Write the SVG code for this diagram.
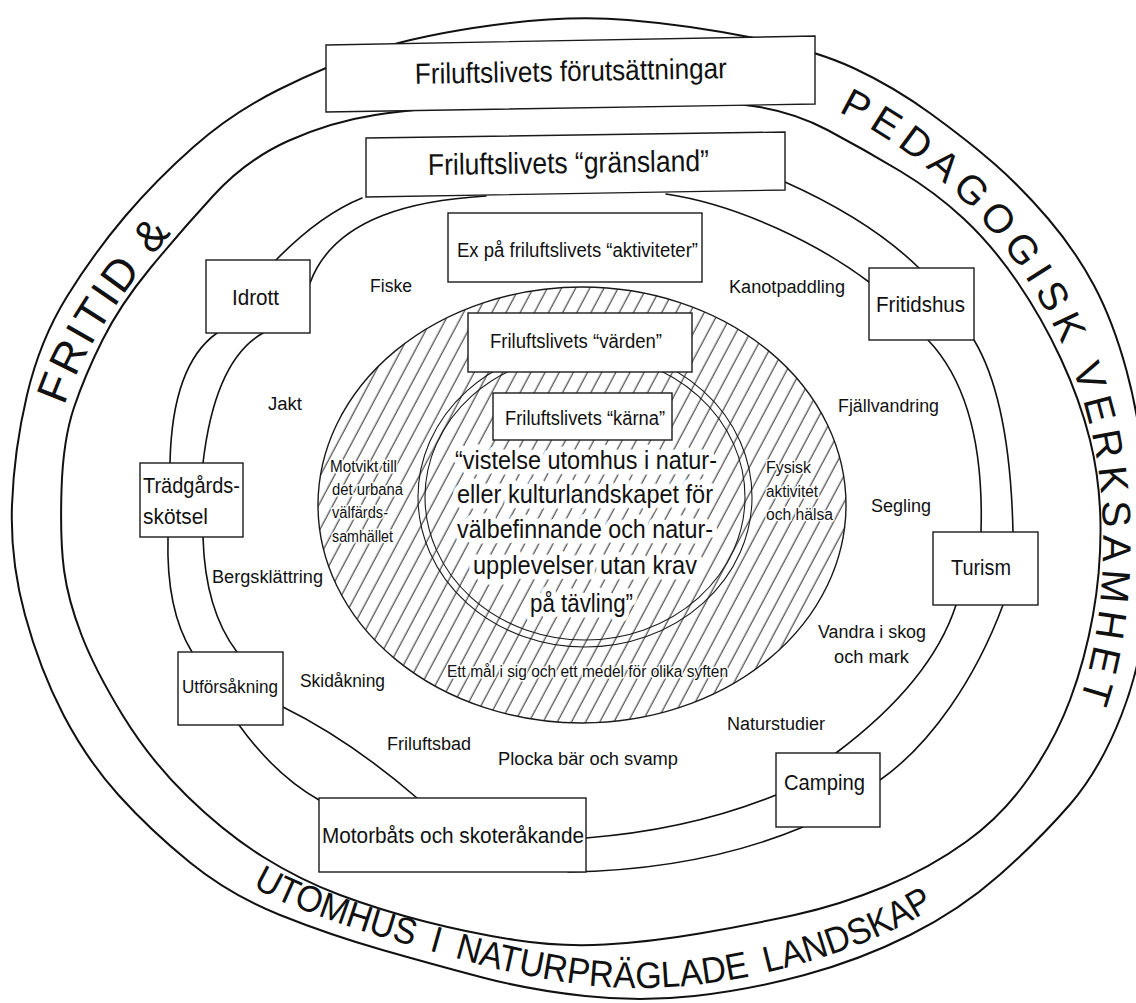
<svg xmlns="http://www.w3.org/2000/svg" width="1136" height="1003" viewBox="0 0 1136 1003">
<style>
  .ring{fill:none;stroke:#111;stroke-width:2;stroke-linejoin:round}
  .con{fill:none;stroke:#111;stroke-width:1.6;stroke-linecap:round}
  .box{fill:#fff;stroke:#1a1a1a;stroke-width:1.4}
  text{font-family:"Liberation Sans Narrow","Liberation Sans",Arial,sans-serif;fill:#111}
  .band{font-family:"Liberation Sans",Arial,sans-serif}
  .lbl{font-size:18px}
  .bt{font-size:22px}
  .sm{font-size:16px}
  .halo{paint-order:stroke;stroke:#fff;stroke-width:3px;stroke-linejoin:round}
  .halo2{paint-order:stroke;stroke:#fff;stroke-width:11px;stroke-linejoin:round}
  .ov{fill:none;stroke:#1a1a1a;stroke-width:1.1}
</style>
<defs>
  <pattern id="hatch" width="12.5" height="40" patternUnits="userSpaceOnUse" patternTransform="rotate(28)">
    <line x1="6" y1="-1" x2="6" y2="41" stroke="#222" stroke-width="1"/>
  </pattern>
  <path id="pL" d="M50,470 C60,380 110,290 250,148"/>
  <path id="pR" d="M790,92 C960,150 1100,320 1103,530 C1104,650 1078,745 1008,830"/>
  <path id="pB" d="M200,850 Q238,882 285,903 Q335,923 385,938 Q437,953 485,966 Q532,978 585,985 Q640,991 694,985 Q748,979 800,964 Q855,949 903,925 Q952,900 990,866"/>
</defs>
<rect width="1136" height="1003" fill="#fff"/>

<g id="rings">
  <path class="ring" d="M25,615 Q10,560 12,505 Q14,450 27,395 Q40,340 67,296.5 Q94,253 125,216.5 Q156,180 194,146.5 Q232,113 279,89.5 Q326,66 373,50.5 Q420,35 494,25 Q568,15 628,20 Q688,25 751.5,37.5 Q815,50 854.5,68.5 Q894,87 930.5,113.5 Q967,140 994,163.5 Q1021,187 1048,218.5 Q1075,250 1094,285.5 Q1113,321 1126.5,370.5 Q1140,420 1145,480 Q1150,540 1146.5,600 Q1143,660 1121.5,715 Q1100,770 1069.5,805 Q1039,840 999.5,875 Q960,910 910,935 Q860,960 804.5,975 Q749,990 694.5,996 Q640,1002 585,996 Q530,990 482.5,977.5 Q435,965 382.5,950 Q330,935 280,915 Q230,895 190,862.5 Q150,830 118.5,795 Q87,760 63.5,715 Q40,670 25,615 Z"/>
  <path class="ring" d="M64,570 Q60,540 61.5,490 Q63,440 74,407.5 Q85,375 102.5,340 Q120,305 150,268.5 Q180,232 213,196 Q246,160 288,141 Q330,122 375,115 Q420,108 490,104 Q560,100 630,100 Q700,100 745,105 Q790,110 827.5,130 Q865,150 900,171 Q935,192 963.5,218.5 Q992,245 1017,281.5 Q1042,318 1061,359 Q1080,400 1090,440 Q1100,480 1100.5,525 Q1101,570 1093,615 Q1085,660 1070,700 Q1055,740 1029,777.5 Q1003,815 966.5,841.5 Q930,868 885,886.5 Q840,905 794.5,915 Q749,925 699.5,933.5 Q650,942 605,944.5 Q560,947 515,940 Q470,933 425,921.5 Q380,910 340,895 Q300,880 262.5,856.5 Q225,833 187.5,796.5 Q150,760 122.5,715 Q95,670 81.5,635 Q68,600 64,570 Z"/>
</g>

<g id="band-texts" class="band">
  <text font-size="44" letter-spacing="3"><textPath href="#pL" startOffset="66">FRITID &amp;</textPath></text>
  <text font-size="40" letter-spacing="7"><textPath href="#pR" startOffset="52">PEDAGOGISK VERKSAMHET</textPath></text>
  <text font-size="37" word-spacing="8"><textPath href="#pB" startOffset="64" textLength="712" lengthAdjust="spacingAndGlyphs">UTOMHUS I NATURPRÄGLADE LANDSKAP</textPath></text>
</g>

<g id="connectors">
  <path class="con" d="M362,198 Q320,215 276,260"/>
  <path class="con" d="M217,333 Q172,365 170,463"/>
  <path class="con" d="M168,537 Q166,610 192,652"/>
  <path class="con" d="M239,725 Q275,775 319,800"/>
  <path class="con" d="M568,872 Q700,870 803,827"/>
  <path class="con" d="M880,780 C930,745 975,680 1003,605"/>
  <path class="con" d="M1013,532 Q1010,400 974,340"/>
  <path class="con" d="M919,268 Q870,220 785,182"/>
  <path class="con" d="M486,196 C420,200 335,215 310,283"/>
  <path class="con" d="M263,333 Q215,360 203,463"/>
  <path class="con" d="M203,537 Q205,610 237,652"/>
  <path class="con" d="M283,707 Q350,740 417,798"/>
  <path class="con" d="M586,838 Q690,830 776,795"/>
  <path class="con" d="M836,753 C880,720 935,670 956,605"/>
  <path class="con" d="M981,532 Q985,400 928,340"/>
  <path class="con" d="M869,282 C820,245 740,205 666,194"/>
</g>

<g id="hatched-core">
  <ellipse cx="582" cy="505" rx="264" ry="218" fill="url(#hatch)" stroke="#1a1a1a" stroke-width="1.4"/>
  <ellipse class="ov" cx="585" cy="497" rx="167" ry="150"/>
  <ellipse class="ov" cx="585" cy="497" rx="160" ry="143"/>
</g>

<g id="n-forutsattningar">
  <polygon class="box" points="326,45 815,36 815,104 326,112"/>
  <text font-size="29" x="415" y="81" textLength="312" lengthAdjust="spacingAndGlyphs" transform="rotate(-1.05 571 81)">Friluftslivets förutsättningar</text>
</g>
<g id="n-gransland">
  <polygon class="box" points="366,138 785,132 785,190 366,197"/>
  <text font-size="30" x="428" y="173" textLength="281" lengthAdjust="spacingAndGlyphs" transform="rotate(-0.82 568 173)">Friluftslivets “gränsland”</text>
</g>
<g id="n-aktiviteter">
  <rect class="box" x="448" y="213" width="254" height="69"/>
  <text font-size="20" x="457" y="257" textLength="241" lengthAdjust="spacingAndGlyphs">Ex på friluftslivets “aktiviteter”</text>
</g>
<g id="n-varden">
  <rect class="box" x="468" y="313" width="224" height="59"/>
  <text font-size="20" x="490" y="348" textLength="172" lengthAdjust="spacingAndGlyphs">Friluftslivets “värden”</text>
</g>
<g id="n-karna">
  <rect class="box" x="493" y="393" width="179" height="47"/>
  <text font-size="20" x="505" y="425" textLength="160" lengthAdjust="spacingAndGlyphs">Friluftslivets “kärna”</text>
</g>
<g id="n-idrott">
  <rect class="box" x="206" y="260" width="104" height="73"/>
  <text class="bt" x="232" y="305" textLength="47" lengthAdjust="spacingAndGlyphs">Idrott</text>
</g>
<g id="n-fritidshus">
  <rect class="box" x="869" y="268" width="105" height="72"/>
  <text class="bt" x="876" y="312" textLength="89" lengthAdjust="spacingAndGlyphs">Fritidshus</text>
</g>
<g id="n-tradgard">
  <rect class="box" x="140" y="463" width="103" height="74"/>
  <text class="bt" x="143" y="493" textLength="97" lengthAdjust="spacingAndGlyphs">Trädgårds-</text>
  <text class="bt" x="143" y="524" textLength="65" lengthAdjust="spacingAndGlyphs">skötsel</text>
</g>
<g id="n-turism">
  <rect class="box" x="933" y="532" width="105" height="73"/>
  <text class="bt" x="951" y="575" textLength="60" lengthAdjust="spacingAndGlyphs">Turism</text>
</g>
<g id="n-utforsakning">
  <rect class="box" x="178" y="652" width="105" height="73"/>
  <text font-size="19" x="182" y="693" textLength="96" lengthAdjust="spacingAndGlyphs">Utförsåkning</text>
</g>
<g id="n-camping">
  <rect class="box" x="776" y="753" width="104" height="74"/>
  <text class="bt" x="784" y="790" textLength="81" lengthAdjust="spacingAndGlyphs">Camping</text>
</g>
<g id="n-motorbats">
  <rect class="box" x="319" y="798" width="267" height="74"/>
  <text class="bt" x="322" y="843" textLength="262" lengthAdjust="spacingAndGlyphs">Motorbåts och skoteråkande</text>
</g>

<g id="activities" class="lbl">
  <text x="370" y="292" textLength="42" lengthAdjust="spacingAndGlyphs">Fiske</text>
  <text x="729" y="293" textLength="116" lengthAdjust="spacingAndGlyphs">Kanotpaddling</text>
  <text x="268" y="410" textLength="34" lengthAdjust="spacingAndGlyphs">Jakt</text>
  <text x="838" y="412" textLength="101" lengthAdjust="spacingAndGlyphs">Fjällvandring</text>
  <text x="871" y="512" textLength="60" lengthAdjust="spacingAndGlyphs">Segling</text>
  <text x="212" y="583" textLength="111" lengthAdjust="spacingAndGlyphs">Bergsklättring</text>
  <text x="818" y="638" textLength="108" lengthAdjust="spacingAndGlyphs">Vandra i skog</text>
  <text x="834" y="663" textLength="75" lengthAdjust="spacingAndGlyphs">och mark</text>
  <text x="300" y="687" textLength="85" lengthAdjust="spacingAndGlyphs">Skidåkning</text>
  <text x="387" y="750" textLength="84" lengthAdjust="spacingAndGlyphs">Friluftsbad</text>
  <text x="498" y="765" textLength="180" lengthAdjust="spacingAndGlyphs">Plocka bär och svamp</text>
  <text x="727" y="730" textLength="98" lengthAdjust="spacingAndGlyphs">Naturstudier</text>
</g>

<g id="core-texts">
  <g class="sm halo">
    <text x="330" y="472" textLength="67" lengthAdjust="spacingAndGlyphs">Motvikt till</text>
    <text x="332" y="495" textLength="71" lengthAdjust="spacingAndGlyphs">det urbana</text>
    <text x="332" y="518" textLength="56" lengthAdjust="spacingAndGlyphs">välfärds-</text>
    <text x="332" y="542" textLength="61" lengthAdjust="spacingAndGlyphs">samhället</text>
    <text x="766" y="473" textLength="45" lengthAdjust="spacingAndGlyphs">Fysisk</text>
    <text x="766" y="497" textLength="52" lengthAdjust="spacingAndGlyphs">aktivitet</text>
    <text x="766" y="520" textLength="67" lengthAdjust="spacingAndGlyphs">och hälsa</text>
    <text x="447" y="677" textLength="281" lengthAdjust="spacingAndGlyphs">Ett mål i sig och ett medel för olika syften</text>
  </g>
  <g class="halo2" font-size="25">
    <text x="455" y="469" textLength="262" lengthAdjust="spacingAndGlyphs">“vistelse utomhus i natur-</text>
    <text x="457" y="503" textLength="256" lengthAdjust="spacingAndGlyphs">eller kulturlandskapet för</text>
    <text x="457" y="538" textLength="256" lengthAdjust="spacingAndGlyphs">välbefinnande och natur-</text>
    <text x="473" y="574" textLength="224" lengthAdjust="spacingAndGlyphs">upplevelser utan krav</text>
    <text x="530" y="612" textLength="103" lengthAdjust="spacingAndGlyphs">på tävling”</text>
  </g>
</g>
</svg>
